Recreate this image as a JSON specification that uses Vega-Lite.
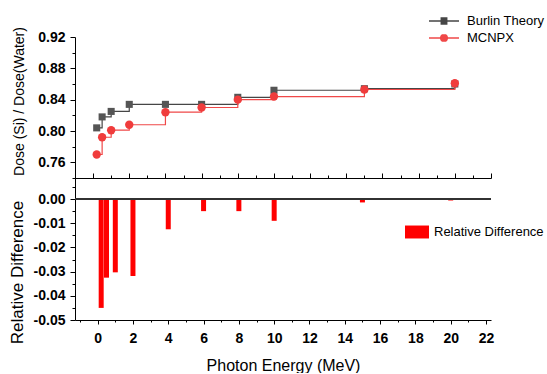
{
  "$schema": "https://vega.github.io/schema/vega-lite/v6.json",
  "background": "white",
  "padding": {"left": 8, "top": 5, "right": 0, "bottom": 0},
  "spacing": 0,
  "bounds": "flush",
  "config": {
    "view": {"stroke": null},
    "font": "Liberation Sans",
    "axis": {
      "grid": false,
      "domainColor": "#000",
      "tickColor": "#000",
      "domainWidth": 1,
      "tickWidth": 1,
      "labelOverlap": false,
      "labelFont": "Liberation Sans",
      "labelFontWeight": "bold",
      "labelFontSize": 14,
      "labelColor": "#000",
      "titleFont": "Liberation Sans",
      "titleFontWeight": "normal",
      "titleColor": "#000"
    }
  },
  "vconcat": [
    {
      "width": 416,
      "height": 141,
      "data": {
        "values": [
          {"E": 0.2, "v": 0.804, "s": "Burlin Theory"},
          {"E": 0.5, "v": 0.818, "s": "Burlin Theory"},
          {"E": 1, "v": 0.825, "s": "Burlin Theory"},
          {"E": 2, "v": 0.834, "s": "Burlin Theory"},
          {"E": 4, "v": 0.834, "s": "Burlin Theory"},
          {"E": 6, "v": 0.834, "s": "Burlin Theory"},
          {"E": 8, "v": 0.843, "s": "Burlin Theory"},
          {"E": 10, "v": 0.852, "s": "Burlin Theory"},
          {"E": 15, "v": 0.854, "s": "Burlin Theory"},
          {"E": 20, "v": 0.860, "s": "Burlin Theory"},
          {"E": 0.2, "v": 0.770, "s": "MCNPX"},
          {"E": 0.5, "v": 0.792, "s": "MCNPX"},
          {"E": 1, "v": 0.801, "s": "MCNPX"},
          {"E": 2, "v": 0.808, "s": "MCNPX"},
          {"E": 4, "v": 0.824, "s": "MCNPX"},
          {"E": 6, "v": 0.830, "s": "MCNPX"},
          {"E": 8, "v": 0.840, "s": "MCNPX"},
          {"E": 10, "v": 0.844, "s": "MCNPX"},
          {"E": 15, "v": 0.853, "s": "MCNPX"},
          {"E": 20, "v": 0.861, "s": "MCNPX"}
        ]
      },
      "encoding": {
        "x": {
          "field": "E", "type": "quantitative",
          "scale": {"domain": [-1, 22], "nice": false, "zero": false},
          "axis": {
            "title": null, "labels": false,
            "values": [-1,0,1,2,3,4,5,6,7,8,9,10,11,12,13,14,15,16,17,18,19,20,21,22],
            "tickSize": {"condition": {"test": "datum.value % 2 === 0", "value": -5}, "value": -3}
          }
        },
        "y": {
          "field": "v", "type": "quantitative",
          "scale": {"domain": [0.74, 0.92], "nice": false, "zero": false},
          "axis": {
            "title": "Dose (Si) / Dose(Water)",
            "titleFontSize": 14,
            "titlePadding": 11,
            "titleY": 64,
            "labelPadding": 5,
            "labelOverlap": false,
            "values": [0.74, 0.76, 0.78, 0.80, 0.82, 0.84, 0.86, 0.88, 0.90, 0.92],
            "labelExpr": "abs(datum.value*25 - round(datum.value*25)) < 0.001 ? format(datum.value, '.2f') : ''",
            "tickSize": {"condition": {"test": "abs(datum.value*25 - round(datum.value*25)) < 0.001", "value": 5}, "value": 3}
          }
        }
      },
      "layer": [
        {
          "transform": [{"filter": "datum.s === 'Burlin Theory'"}],
          "mark": {"type": "line", "interpolate": "step-after", "strokeWidth": 1.2},
          "encoding": {
            "color": {
              "field": "s", "type": "nominal",
              "scale": {"domain": ["Burlin Theory"], "range": ["#464646"]},
              "legend": {
                "orient": "none", "legendX": 353, "legendY": -32, "title": null, "padding": 0,
                "symbolType": "M-1,0H1M-0.23,-0.21H0.23M-0.23,-0.15H0.23M-0.23,-0.09H0.23M-0.23,-0.03H0.23M-0.23,0.03H0.23M-0.23,0.09H0.23M-0.23,0.15H0.23M-0.23,0.21H0.23",
                "symbolSize": 900, "symbolStrokeWidth": 1.3, "symbolFillColor": "transparent",
                "labelOffset": 7, "labelFontSize": 13, "labelFont": "Liberation Sans", "labelColor": "#000", "labelLimit": 300
              }
            }
          }
        },
        {
          "transform": [{"filter": "datum.s === 'MCNPX'"}],
          "mark": {"type": "line", "interpolate": "step-after", "strokeWidth": 1.2},
          "encoding": {
            "stroke": {
              "field": "s", "type": "nominal",
              "scale": {"domain": ["MCNPX"], "range": ["#f04848"]},
              "legend": {
                "orient": "none", "legendX": 353, "legendY": -15, "title": null, "padding": 0,
                "symbolType": "M-1,0H1M-0.164,-0.21H0.164M-0.22,-0.15H0.22M-0.251,-0.09H0.251M-0.265,-0.03H0.265M-0.265,0.03H0.265M-0.251,0.09H0.251M-0.22,0.15H0.22M-0.164,0.21H0.164",
                "symbolSize": 900, "symbolStrokeWidth": 1.3, "symbolFillColor": "transparent",
                "labelOffset": 7, "labelFontSize": 13, "labelFont": "Liberation Sans", "labelColor": "#000", "labelLimit": 300
              }
            }
          }
        },
        {
          "transform": [{"filter": "datum.s === 'Burlin Theory'"}],
          "mark": {"type": "point", "filled": true, "opacity": 1, "shape": "square", "size": 50, "color": "#555555"}
        },
        {
          "transform": [{"filter": "datum.s === 'MCNPX'"}],
          "mark": {"type": "point", "filled": true, "opacity": 1, "shape": "circle", "size": 70, "color": "#f03c3c"}
        }
      ]
    },
    {
      "width": 416,
      "height": 142,
      "data": {
        "values": [
          {"E": 0.2, "d": -0.045, "s": "Relative Difference"},
          {"E": 0.5, "d": -0.0325, "s": "Relative Difference"},
          {"E": 1, "d": -0.0303, "s": "Relative Difference"},
          {"E": 2, "d": -0.0318, "s": "Relative Difference"},
          {"E": 4, "d": -0.0125, "s": "Relative Difference"},
          {"E": 6, "d": -0.005, "s": "Relative Difference"},
          {"E": 8, "d": -0.005, "s": "Relative Difference"},
          {"E": 10, "d": -0.009, "s": "Relative Difference"},
          {"E": 15, "d": -0.0014, "s": "Relative Difference"},
          {"E": 20, "d": -0.0006, "s": "Relative Difference"}
        ]
      },
      "layer": [
        {
          "mark": {"type": "bar", "size": 5},
          "encoding": {
            "x": {
              "field": "E", "type": "quantitative",
              "scale": {"domain": [-1, 22], "nice": false, "zero": false},
              "axis": {
                "title": "Photon Energy (MeV)",
                "titleFontSize": 16,
                "titlePadding": 12,
                "labelPadding": 7,
                "labelOverlap": false,
                "values": [-1,0,1,2,3,4,5,6,7,8,9,10,11,12,13,14,15,16,17,18,19,20,21,22],
                "labelExpr": "datum.value % 2 === 0 ? format(datum.value, 'd') : ''",
                "tickSize": {"condition": {"test": "datum.value % 2 === 0", "value": 4}, "value": 2}
              }
            },
            "y": {
              "field": "d", "type": "quantitative",
              "scale": {"domain": [-0.05, 0.0087], "nice": false},
              "axis": {
                "title": "Relative Difference",
                "titleFontSize": 17,
                "titlePadding": 7,
                "titleY": 94,
                "labelPadding": 5,
                "labelOverlap": false,
                "values": [-0.05, -0.045, -0.04, -0.035, -0.03, -0.025, -0.02, -0.015, -0.01, -0.005, 0, 0.005],
                "labelExpr": "round(datum.value*200) % 2 === 0 ? replace(format(datum.value, '.2f'), '\u2212', '-') : ''",
                "tickSize": {"condition": {"test": "round(datum.value*200) % 2 === 0", "value": 5}, "value": 3}
              }
            },
            "y2": {"datum": 0},
            "fill": {
              "field": "s", "type": "nominal",
              "scale": {"domain": ["Relative Difference"], "range": ["#ff0000"]},
              "legend": {
                "orient": "none", "legendX": 330, "legendY": 183, "title": null, "padding": 0,
                "symbolType": "M-1,-0.54H1V0.54H-1Z", "symbolSize": 576, "symbolStrokeWidth": 0,
                "labelOffset": 5, "labelFontSize": 13, "labelFont": "Liberation Sans", "labelColor": "#000", "labelLimit": 300
              }
            }
          }
        },
        {
          "mark": {"type": "rule", "color": "#333333", "strokeWidth": 1},
          "encoding": {
            "y": {
              "datum": 0,
              "type": "quantitative",
              "axis": {
                "title": "Relative Difference",
                "titleFontSize": 17,
                "titlePadding": 7,
                "titleY": 94,
                "labelPadding": 5,
                "labelOverlap": false,
                "values": [-0.05, -0.045, -0.04, -0.035, -0.03, -0.025, -0.02, -0.015, -0.01, -0.005, 0, 0.005],
                "labelExpr": "round(datum.value*200) % 2 === 0 ? replace(format(datum.value, '.2f'), '\u2212', '-') : ''",
                "tickSize": {"condition": {"test": "round(datum.value*200) % 2 === 0", "value": 5}, "value": 3}
              }
            }
          }
        }
      ]
    }
  ]
}
